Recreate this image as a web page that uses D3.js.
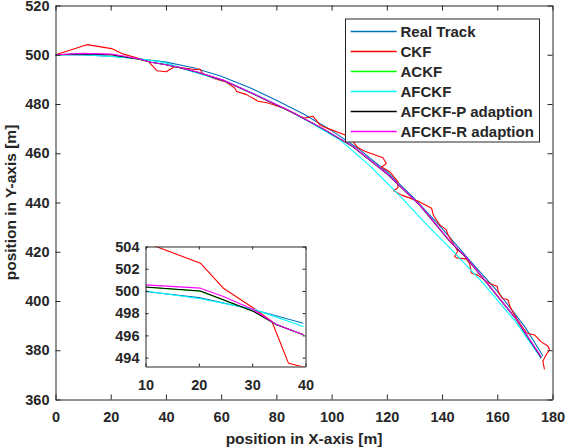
<!DOCTYPE html>
<html><head><meta charset="utf-8">
<script src="https://cdn.jsdelivr.net/npm/d3@7"></script>
<style>
body{margin:0;background:#fff}
text{font-family:"Liberation Sans",Arial,Helvetica,sans-serif;font-weight:bold;fill:#262626}
</style></head>
<body><svg id="c" width="566" height="448"></svg>
<script>
// ---------------- data ----------------
const xTicks = [0,20,40,60,80,100,120,140,160,180];
const yTicks = [360,380,400,420,440,460,480,500,520];
const insetXTicks = [10,20,30,40];
const insetYTicks = [494,496,498,500,502,504];

const realX = [0,10,20,30,39.6,50,60,70,80,90,100,110,120,130,140,150,160,170,176.5];
const realY = [500,499.95,499.4,498.35,497.1,494.7,491.3,486.8,481.5,475.8,469.2,461.6,452.5,441.6,429.5,416.5,404.0,389.5,377.8];

const ckfX = [0,11.4,20.3,24.6,30.3,33.7,36.8,40.1,43.2,47.2,51.1,52.3,53.5,57.7,61.9,64.9,65.6,69.2,73.4,77.0,82.4,88.5,90.3,93.3,95.7,98.1,104.7,106.5,109.6,112.0,118.6,119.8,118.1,121.0,124.0,124.0,122.5,125.4,131.2,136.2,136.9,139.1,141.5,142.1,145.7,144.5,145.2,148.8,150.0,150.6,152.9,157.2,159.9,160.5,161.9,163.8,164.8,167.0,170.6,173.5,175.7,178.3,178.9,177.5,176.5,177.1];
const ckfY = [500,504.1,502.5,500.25,498.45,497.25,493.5,493.1,495.25,494.5,493.9,494.2,492.2,490.3,488.8,486.5,485.1,483.8,481.1,480.4,478.4,475.0,474.3,475.0,471.6,470.3,467.5,466.3,462.2,460.8,458.2,455.8,454.4,452.5,448.5,446.0,444.8,443.0,440.6,437.7,434.7,431.0,429.0,427.0,420.2,418.2,417.5,417.1,415.2,411.4,410.5,407.1,406.0,403.4,401.0,400.6,397.2,392.9,387.0,386.2,383.6,381.7,380.3,377.7,375.6,372.2];

const adaptX = [0,10,20.3,24.6,30.3,34.6,39.6,45,51.1,60.7,72.8,84.8,96.9,107.7,119.8,131.9,142.7,148.8,154.8,166.9,175.9];
const ackfY  = [500,500.33,499.98,499.18,498.15,496.95,496.05,494.7,493.0,489.6,483.5,477.2,469.9,462.7,451.9,438.9,424.4,417.5,409.3,392.5,377.0];
const afckfPY = [500,500.35,500.0,499.2,498.15,496.95,496.05,494.7,493.0,489.6,483.5,477.2,469.9,462.7,451.9,438.9,424.4,417.5,409.3,392.5,377.0];
const afckfRY = [500,500.55,500.25,499.5,498.3,496.97,496.05,494.8,493.1,489.7,483.6,477.3,470.0,462.8,452.0,439.0,424.5,417.6,409.4,392.6,377.3];

const afckfX = [0,10,20.3,30.3,39.6,48.7,60.6,72.8,84.8,89.7,102.9,113.8,124.6,135.5,142.7,154.8,166.9,175.9];
const afckfY = [500,500.0,499.3,498.35,496.8,493.4,489.6,483.7,477.2,474.2,465.5,455.0,442.8,429.8,421.7,407.4,391.2,376.7];

const seriesNames = ["Real Track","CKF","ACKF","AFCKF","AFCKF-P adaption","AFCKF-R adaption"];
const seriesColors = ["#0072BD","#FF0000","#00FF00","#00FFFF","#000000","#FF00FF"];
const seriesXs = [realX, ckfX, adaptX, afckfX, adaptX, adaptX];
const seriesYs = [realY, ckfY, ackfY, afckfY, afckfPY, afckfRY];

// ---------------- drawing ----------------
const svg = d3.select("#c");
svg.append("rect").attr("width",566).attr("height",448).attr("fill","#fff");

const M = {l:55.5, r:552.5, t:5.5, b:399.5};
const x = d3.scaleLinear().domain([0,180]).range([M.l,M.r]);
const y = d3.scaleLinear().domain([360,520]).range([M.b,M.t]);

const defs = svg.append("defs");
defs.append("clipPath").attr("id","mainClip").append("rect")
  .attr("x",M.l).attr("y",M.t).attr("width",M.r-M.l).attr("height",M.b-M.t);

const series = seriesNames.map((n,i)=>({name:n,color:seriesColors[i],
  pts: seriesXs[i].map((v,j)=>[v, seriesYs[i][j]])}));

const line = d3.line().x(d=>x(d[0])).y(d=>y(d[1]));
const plot = svg.append("g").attr("clip-path","url(#mainClip)");
series.forEach(s=>{
  plot.append("path").attr("d",line(s.pts)).attr("fill","none")
    .attr("stroke",s.color).attr("stroke-width",1.1).attr("stroke-linejoin","round");
});

function styleAxis(g, fs){
  g.attr("font-size",fs).attr("font-family",null).attr("color","#262626");
  g.selectAll(".domain").attr("stroke","#262626");
  g.selectAll(".tick line").attr("stroke","#262626");
}
const fsTick = 14.5;
styleAxis(svg.append("g").attr("transform",`translate(0,${M.b})`)
  .call(d3.axisBottom(x).tickValues(xTicks).tickSizeInner(-5).tickSizeOuter(0).tickPadding(12)), fsTick);
styleAxis(svg.append("g").attr("transform",`translate(0,${M.t})`)
  .call(d3.axisTop(x).tickValues(xTicks).tickFormat(()=>"").tickSizeInner(-5).tickSizeOuter(0)), fsTick);
styleAxis(svg.append("g").attr("transform",`translate(${M.l},0)`)
  .call(d3.axisLeft(y).tickValues(yTicks).tickSizeInner(-5).tickSizeOuter(0).tickPadding(6)), fsTick);
styleAxis(svg.append("g").attr("transform",`translate(${M.r},0)`)
  .call(d3.axisRight(y).tickValues(yTicks).tickFormat(()=>"").tickSizeInner(-5).tickSizeOuter(0)), fsTick);

svg.append("text").attr("x",(M.l+M.r)/2).attr("y",444).attr("text-anchor","middle")
  .attr("font-size",15.5).text("position in X-axis [m]");
svg.append("text").attr("transform",`translate(15.5,${(M.t+M.b)/2}) rotate(-90)`)
  .attr("text-anchor","middle").attr("font-size",15.5).text("position in Y-axis [m]");

// legend
const L = {x:345.5, y:19, w:194, h:123};
const lg = svg.append("g");
lg.append("rect").attr("x",L.x).attr("y",L.y).attr("width",L.w).attr("height",L.h)
  .attr("fill","#fff").attr("stroke","#262626").attr("stroke-width",1);
series.forEach((s,i)=>{
  const cy = 31.5 + i*20;
  lg.append("path").attr("d",`M350.7,${cy}H396.7`)
    .attr("fill","none").attr("stroke",s.color).attr("stroke-width",1.4);
  lg.append("text").attr("x",400.5).attr("y",cy).attr("dy","0.36em")
    .attr("font-size",15).text(s.name);
});

// inset
const I = {l:145.5, r:305.5, t:246.5, b:366.5};
const ix = d3.scaleLinear().domain([10,40]).range([I.l,I.r]);
const iy = d3.scaleLinear().domain([493.2,504]).range([I.b,I.t]);
svg.append("rect").attr("x",I.l).attr("y",I.t).attr("width",I.r-I.l).attr("height",I.b-I.t).attr("fill","#fff");
defs.append("clipPath").attr("id","insetClip").append("rect")
  .attr("x",I.l).attr("y",I.t).attr("width",I.r-I.l).attr("height",I.b-I.t);
const iline = d3.line().x(d=>ix(d[0])).y(d=>iy(d[1]));
const ig = svg.append("g").attr("clip-path","url(#insetClip)");
series.forEach(s=>{
  const p = s.pts.filter(d=>d[0]>=9.5 && d[0]<=40.5);
  ig.append("path").attr("d",iline(p)).attr("fill","none")
    .attr("stroke",s.color).attr("stroke-width",1.1).attr("stroke-linejoin","round");
});
styleAxis(svg.append("g").attr("transform",`translate(0,${I.b})`)
  .call(d3.axisBottom(ix).tickValues(insetXTicks).tickSizeInner(-3).tickSizeOuter(0).tickPadding(13)), fsTick);
styleAxis(svg.append("g").attr("transform",`translate(0,${I.t})`)
  .call(d3.axisTop(ix).tickValues(insetXTicks).tickFormat(()=>"").tickSizeInner(-3).tickSizeOuter(0)), fsTick);
styleAxis(svg.append("g").attr("transform",`translate(${I.l},0)`)
  .call(d3.axisLeft(iy).tickValues(insetYTicks).tickSizeInner(-3).tickSizeOuter(0).tickPadding(6)), fsTick);
styleAxis(svg.append("g").attr("transform",`translate(${I.r},0)`)
  .call(d3.axisRight(iy).tickValues(insetYTicks).tickFormat(()=>"").tickSizeInner(-3).tickSizeOuter(0)), fsTick);
</script></body></html>
